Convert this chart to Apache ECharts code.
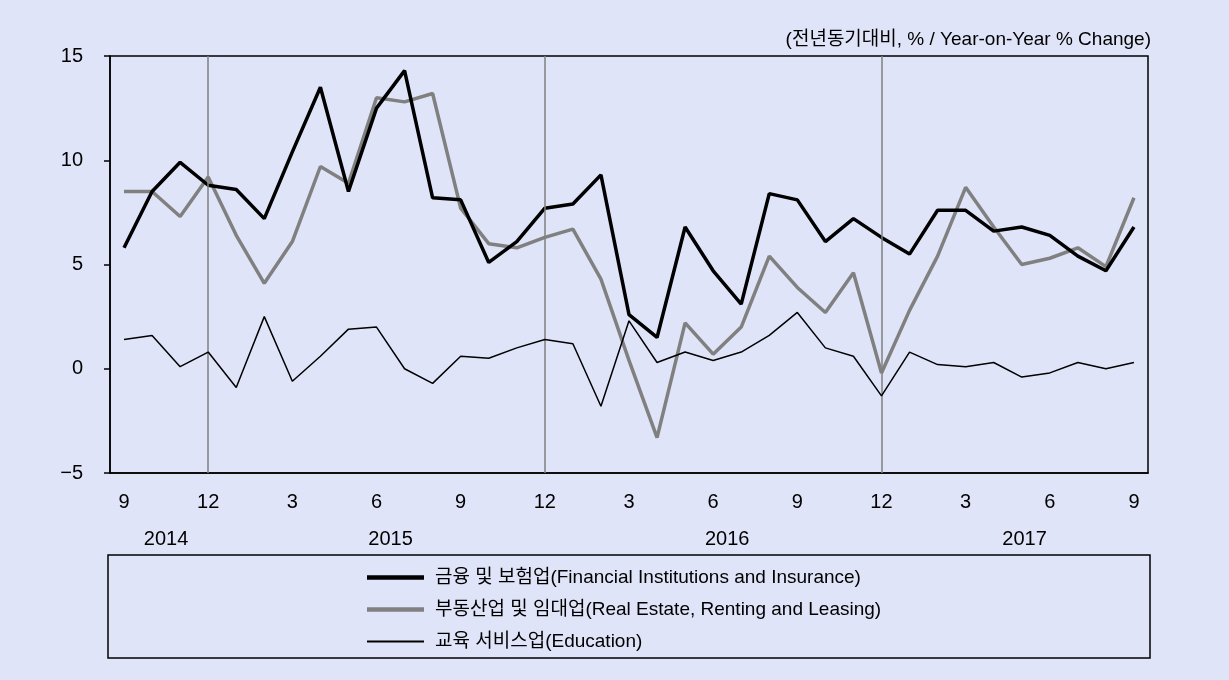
<!DOCTYPE html>
<html>
<head>
<meta charset="utf-8">
<script src="https://cdn.jsdelivr.net/npm/echarts@6/dist/echarts.min.js"></script>
<style>
  html, body { margin: 0; padding: 0; background: #e0e4f8; }
  #main { width: 1229px; height: 680px; }
</style>
</head>
<body>
<div id="main"></div>
<script>
var months = ['2014-09','2014-10','2014-11','2014-12',
  '2015-01','2015-02','2015-03','2015-04','2015-05','2015-06','2015-07','2015-08','2015-09','2015-10','2015-11','2015-12',
  '2016-01','2016-02','2016-03','2016-04','2016-05','2016-06','2016-07','2016-08','2016-09','2016-10','2016-11','2016-12',
  '2017-01','2017-02','2017-03','2017-04','2017-05','2017-06','2017-07','2017-08','2017-09'];

var finance = [5.8, 8.5, 9.9, 8.8, 8.6, 7.2, 10.4, 13.5, 8.5, 12.5, 14.3, 8.2, 8.1, 5.1, 6.1, 7.7, 7.9, 9.3,
  2.6, 1.5, 6.8, 4.7, 3.1, 8.4, 8.1, 6.1, 7.2, 6.3, 5.5, 7.6, 7.6, 6.6, 6.8, 6.4, 5.4, 4.7, 6.8];
var realEstate = [8.5, 8.5, 7.3, 9.2, 6.4, 4.1, 6.1, 9.7, 8.9, 13.0, 12.8, 13.2, 7.7, 6.0, 5.8, 6.3, 6.7, 4.3,
  0.4, -3.3, 2.2, 0.7, 2.0, 5.4, 3.9, 2.7, 4.6, -0.2, 2.8, 5.4, 8.7, 6.8, 5.0, 5.3, 5.8, 4.9, 8.2];
var education = [1.4, 1.6, 0.1, 0.8, -0.9, 2.5, -0.6, 0.6, 1.9, 2.0, 0.0, -0.7, 0.6, 0.5, 1.0, 1.4, 1.2, -1.8,
  2.3, 0.3, 0.8, 0.4, 0.8, 1.6, 2.7, 1.0, 0.6, -1.3, 0.8, 0.2, 0.1, 0.3, -0.4, -0.2, 0.3, 0.0, 0.3];

var yearMarks = [['2014', 1.5], ['2015', 9.5], ['2016', 21.5], ['2017', 32.1]];
var dividers = ['2014-12', '2015-12', '2016-12'];
var seriesNames = ['금융 및 보험업(Financial Institutions and Insurance)',
  '부동산업 및 임대업(Real Estate, Renting and Leasing)',
  '교육 서비스업(Education)'];

var font = '"Liberation Sans", "Noto Sans CJK KR", sans-serif';
var chart = echarts.init(document.getElementById('main'));

var option = {
  backgroundColor: '#e0e4f8',
  animation: false,
  textStyle: { fontFamily: font, color: '#000' },
  title: {
    text: '(전년동기대비, % / Year-on-Year % Change)',
    right: 73, top: 25,
    textStyle: { fontSize: 19, fontWeight: 'normal', color: '#000', fontFamily: font }
  },
  grid: {
    left: 110, right: 81, top: 56, bottom: 207,
    show: true, borderColor: '#000', borderWidth: 1.5
  },
  legend: {
    orient: 'vertical',
    left: 362, top: 563,
    itemGap: 13,
    itemWidth: 57, itemHeight: 18,
    symbolKeepAspect: true,
    textStyle: { fontSize: 19, color: '#000', fontFamily: font, padding: [0, 0, 0, 6] },
    data: [
      { name: seriesNames[0], icon: 'path://M0 0H57V4.5H0Z' },
      { name: seriesNames[1], icon: 'path://M0 0H57V4.5H0Z' },
      { name: seriesNames[2], icon: 'path://M0 0H57V2H0Z' }
    ]
  },
  xAxis: {
    type: 'category',
    data: months,
    boundaryGap: true,
    axisLine: { onZero: false, lineStyle: { color: '#000', width: 1.5 } },
    axisTick: { show: false },
    axisLabel: {
      interval: 2,
      margin: 19,
      fontSize: 20,
      color: '#000',
      formatter: function (v) { return String(parseInt(v.split('-')[1], 10)); }
    },
    splitLine: { show: false }
  },
  yAxis: {
    type: 'value',
    min: -5, max: 15, interval: 5,
    axisLine: { show: true, lineStyle: { color: '#000', width: 1.5 } },
    axisTick: { show: true, inside: false, length: 6, lineStyle: { color: '#000', width: 1.5 } },
    axisLabel: {
      fontSize: 20, color: '#000', margin: 27,
      formatter: function (v) { return v < 0 ? '\u2212' + (-v) : String(v); }
    },
    splitLine: { show: false }
  },
  series: [
    {
      name: seriesNames[0], type: 'line', data: finance,
      symbol: 'none', z: 4,
      lineStyle: { color: '#000', width: 3.5 },
      itemStyle: { color: '#000' },
      markLine: {
        silent: true, symbol: 'none',
        label: { show: false },
        lineStyle: { color: '#808080', width: 1.5, type: 'solid' },
        data: dividers.map(function (d) { return { xAxis: d }; })
      }
    },
    {
      name: seriesNames[1], type: 'line', data: realEstate,
      symbol: 'none', z: 3,
      lineStyle: { color: '#808080', width: 3.5 },
      itemStyle: { color: '#808080' }
    },
    {
      name: seriesNames[2], type: 'line', data: education,
      symbol: 'none', z: 5,
      lineStyle: { color: '#000', width: 1.5 },
      itemStyle: { color: '#000' }
    }
  ]
};
chart.setOption(option);

// year labels under the month ticks, placed via the category scale
function catX(pos) {
  var i = Math.floor(pos);
  var a = chart.convertToPixel({ xAxisIndex: 0 }, months[i]);
  var b = chart.convertToPixel({ xAxisIndex: 0 }, months[Math.min(i + 1, months.length - 1)]);
  return a + (b - a) * (pos - i);
}
var gfx = yearMarks.map(function (ym) {
  return {
    type: 'text', x: catX(ym[1]), y: 539,
    style: { text: ym[0], fontSize: 20, fill: '#000', fontFamily: font, align: 'center', verticalAlign: 'middle' }
  };
});
gfx.push({
  type: 'rect', shape: { x: 108, y: 555, width: 1042, height: 103 },
  style: { fill: 'none', stroke: '#000', lineWidth: 1.5 }, z: -1
});
chart.setOption({ graphic: gfx });
</script>
</body>
</html>
